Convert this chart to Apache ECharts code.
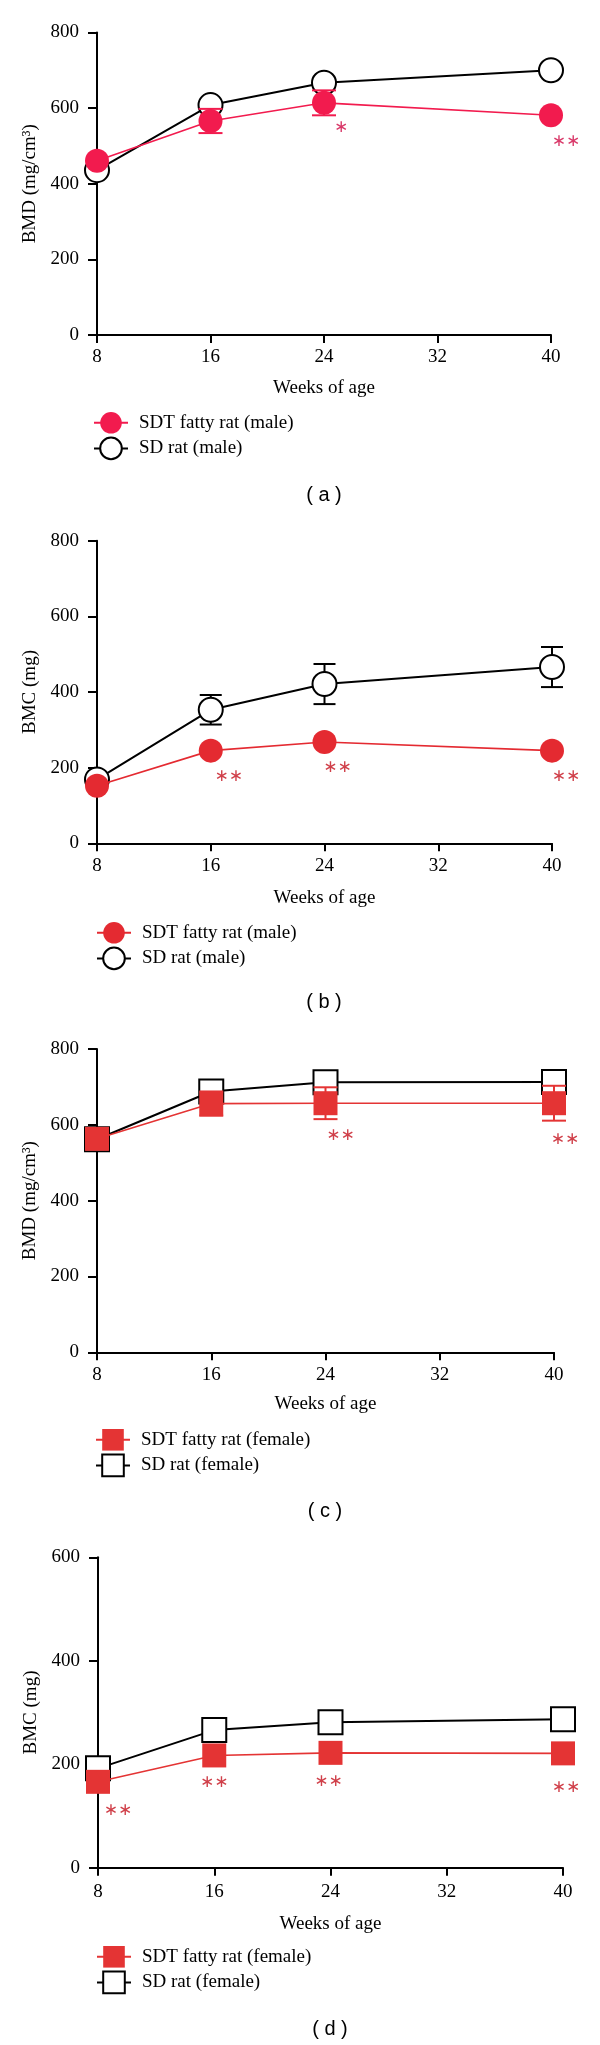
<!DOCTYPE html>
<html>
<head>
<meta charset="utf-8">
<script src="https://cdn.jsdelivr.net/npm/echarts@6/dist/echarts.min.js"></script>
<style>
  html, body { margin: 0; padding: 0; background: #fff; }
  #wrap { position: relative; width: 600px; height: 2045px; }
  .panel { position: absolute; left: 0; width: 600px; }
</style>
</head>
<body>
<div id="wrap">
  <div id="pa" class="panel" style="top:0px;height:510px"></div>
  <div id="pb" class="panel" style="top:510px;height:510px"></div>
  <div id="pc" class="panel" style="top:1020px;height:510px"></div>
  <div id="pd" class="panel" style="top:1530px;height:515px"></div>
</div>
<script>
// ---------- data ----------
const weeks = [8, 16, 24, 40];
const xTicks = [8, 16, 24, 32, 40];

// (a) BMD, male
const aSdtBMD    = [461, 566, 614, 581];
const aSdtBMDErr = [0, 32, 33, 0];
const aSdBMD     = [436, 608, 667, 700];
const aSdBMDErr  = [0, 0, 0, 0];
const aSig       = ['', '', '∗', '∗∗'];

// (b) BMC, male
const bSdtBMC    = [152, 245, 268, 245];
const bSdtBMCErr = [0, 0, 0, 0];
const bSdBMC     = [169, 353, 421, 466];
const bSdBMCErr  = [0, 39, 53, 53];
const bSig       = ['', '∗∗', '∗∗', '∗∗'];

// (c) BMD, female
const cSdtBMD    = [563, 656, 657, 657];
const cSdtBMDErr = [0, 32, 42, 46];
const cSdBMD     = [562, 688, 712, 713];
const cSdBMDErr  = [0, 0, 0, 0];
const cSig       = ['', '', '∗∗', '∗∗'];

// (d) BMC, female
const dSdtBMC    = [166, 217, 222, 221];
const dSdtBMCErr = [0, 0, 0, 0];
const dSdBMC     = [192, 266, 281, 287];
const dSdBMCErr  = [0, 0, 0, 0];
const dSig       = ['∗∗', '∗∗', '∗∗', '∗∗'];

const names = {
  sdtMale: 'SDT fatty rat (male)', sdMale: 'SD rat (male)',
  sdtFemale: 'SDT fatty rat (female)', sdFemale: 'SD rat (female)'
};

// ---------- drawing ----------
const SERIF = "'Liberation Serif', 'Times New Roman', serif";

function zip(xs, ys) { return xs.map((x, i) => [x, ys[i]]); }
function zip3(xs, ys, es) { return xs.map((x, i) => [x, ys[i], es[i]]); }

function errSeries(data, color, lw, capHalf, z) {
  return {
    type: 'custom', z: z, silent: true,
    encode: { x: 0, y: 1 },
    data: data,
    renderItem: function (params, api) {
      const x = api.value(0), y = api.value(1), e = api.value(2);
      if (!e) return null;
      const hi = api.coord([x, y + e]);
      const lo = api.coord([x, y - e]);
      const st = { stroke: color, lineWidth: lw };
      return {
        type: 'group',
        children: [
          { type: 'line', shape: { x1: hi[0], y1: hi[1], x2: lo[0], y2: lo[1] }, style: st },
          { type: 'line', shape: { x1: hi[0] - capHalf, y1: hi[1], x2: hi[0] + capHalf, y2: hi[1] }, style: st },
          { type: 'line', shape: { x1: lo[0] - capHalf, y1: lo[1], x2: lo[0] + capHalf, y2: lo[1] }, style: st }
        ]
      };
    }
  };
}

function sigSeries(xs, ys, sig, offsets, color) {
  return {
    type: 'custom', z: 6, silent: true,
    encode: { x: 0, y: 1 },
    data: xs.map((x, i) => [x, ys[i], i]),
    renderItem: function (params, api) {
      const i = api.value(2);
      const t = sig[i];
      if (!t) return null;
      const p = api.coord([api.value(0), api.value(1)]);
      const o = offsets[i];
      return {
        type: 'text',
        style: {
          text: t, x: p[0] + o[0], y: p[1] + o[1],
          fill: color, fontSize: 17, fontFamily: "'DejaVu Sans', sans-serif",
          align: 'center', verticalAlign: 'middle'
        }
      };
    }
  };
}

function makePanel(el, cfg) {
  const chart = echarts.init(document.getElementById(el), null, { renderer: 'canvas' });
  const sym = cfg.symbol;
  chart.setOption({
    animation: false,
    backgroundColor: '#fff',
    title: {
      text: cfg.label, left: cfg.labelX, top: cfg.labelTop, textAlign: 'center', padding: 0,
      textStyle: { fontFamily: "'Liberation Sans', Arial, sans-serif", fontSize: 20, fontWeight: 'normal', color: '#000' }
    },
    legend: {
      orient: 'vertical', left: cfg.legendLeft, top: cfg.legendTop, padding: 0,
      itemWidth: 34, itemHeight: 27, itemGap: 3,
      data: [cfg.sdtName, cfg.sdName],
      selectedMode: false,
      textStyle: { fontFamily: SERIF, fontSize: 19, color: '#000', padding: [0, 0, 0, 6] }
    },
    grid: { left: cfg.grid[0], right: cfg.grid[1], top: cfg.grid[2], height: cfg.grid[3] },
    xAxis: {
      type: 'value', min: 8, max: 40, interval: 8,
      name: 'Weeks of age', nameLocation: 'middle', nameGap: cfg.xNameGap,
      nameTextStyle: { fontFamily: SERIF, fontSize: 19, color: '#000' },
      axisLine: { lineStyle: { color: '#000', width: 2 } },
      axisTick: { length: 8, lineStyle: { color: '#000', width: 2 } },
      axisLabel: { margin: cfg.xLabelMargin, fontFamily: SERIF, fontSize: 19, color: '#000',
        formatter: v => (xTicks.indexOf(v) >= 0 ? String(v) : '') },
      splitLine: { show: false }
    },
    yAxis: {
      type: 'value', min: 0, max: cfg.yMax, interval: 200,
      name: cfg.yName, nameLocation: 'middle', nameGap: 54, nameRotate: 90,
      nameTextStyle: { fontFamily: SERIF, fontSize: 19, color: '#000' },
      axisLine: { show: true, lineStyle: { color: '#000', width: 2 } },
      axisTick: { show: true, length: 9, lineStyle: { color: '#000', width: 2 } },
      axisLabel: { margin: 18, fontFamily: SERIF, fontSize: 19, color: '#000' },
      splitLine: { show: false }
    },
    series: [
      errSeries(zip3(weeks, cfg.sd, cfg.sdErr), '#000', 2, 11, 1),
      {
        name: cfg.sdName, type: 'line', z: 2,
        data: zip(weeks, cfg.sd),
        symbol: sym, symbolSize: cfg.symSize,
        lineStyle: { color: '#000', width: 2 },
        itemStyle: { color: '#fff', borderColor: '#000', borderWidth: 2 },
        emphasis: { disabled: true }
      },
      errSeries(zip3(weeks, cfg.sdt, cfg.sdtErr), cfg.red, 2, 12, 3),
      {
        name: cfg.sdtName, type: 'line', z: 4,
        data: zip(weeks, cfg.sdt),
        symbol: sym, symbolSize: cfg.symSize,
        lineStyle: { color: cfg.red, width: 1.6 },
        itemStyle: { color: cfg.red, borderColor: cfg.red, borderWidth: 0 },
        emphasis: { disabled: true }
      },
      sigSeries(weeks, cfg.sdt, cfg.sig, cfg.sigOffsets, cfg.sigColor)
    ]
  });
}

makePanel('pa', {
  label: '( a )', labelX: 324, labelTop: 485,
  legendLeft: 93, legendTop: 412,
  grid: [97, 49, 32.5, 302.5], xNameGap: 44, xLabelMargin: 13,
  yMax: 800, yName: 'BMD (mg/cm³)',
  symbol: 'circle', symSize: 24,
  sdName: names.sdMale, sdtName: names.sdtMale,
  sd: aSdBMD, sdErr: aSdBMDErr, sdt: aSdtBMD, sdtErr: aSdtBMDErr,
  red: '#F21B4E', sig: aSig, sigColor: '#D93A6A',
  sigOffsets: [[0, 0], [0, 0], [17, 25], [15, 26]]
});

makePanel('pb', {
  label: '( b )', labelX: 324, labelTop: 482,
  legendLeft: 96, legendTop: 412,
  grid: [97, 48, 30.7, 302.6], xNameGap: 45, xLabelMargin: 13,
  yMax: 800, yName: 'BMC (mg)',
  symbol: 'circle', symSize: 24,
  sdName: names.sdMale, sdtName: names.sdtMale,
  sd: bSdBMC, sdErr: bSdBMCErr, sdt: bSdtBMC, sdtErr: bSdtBMCErr,
  red: '#E42A31', sig: bSig, sigColor: '#D0404A',
  sigOffsets: [[0, 0], [18, 26], [13, 26], [14, 26]]
});

makePanel('pc', {
  label: '( c )', labelX: 325, labelTop: 481,
  legendLeft: 95, legendTop: 409,
  grid: [97, 46, 29, 303.3], xNameGap: 42, xLabelMargin: 13,
  yMax: 800, yName: 'BMD (mg/cm³)',
  symbol: 'rect', symSize: 24,
  sdName: names.sdFemale, sdtName: names.sdtFemale,
  sd: cSdBMD, sdErr: cSdBMDErr, sdt: cSdtBMD, sdtErr: cSdtBMDErr,
  red: '#E43434', sig: cSig, sigColor: '#D0404A',
  sigOffsets: [[0, 0], [0, 0], [15, 32], [11, 36]]
});

makePanel('pd', {
  label: '( d )', labelX: 330, labelTop: 489,
  legendLeft: 96, legendTop: 416,
  grid: [98, 37, 27.3, 310.4], xNameGap: 47, xLabelMargin: 15,
  yMax: 600, yName: 'BMC (mg)',
  symbol: 'rect', symSize: 24,
  sdName: names.sdFemale, sdtName: names.sdtFemale,
  sd: dSdBMC, sdErr: dSdBMCErr, sdt: dSdtBMC, sdtErr: dSdtBMCErr,
  red: '#E43434', sig: dSig, sigColor: '#D0404A',
  sigOffsets: [[20, 29], [0, 27], [-2, 29], [3, 34]]
});
</script>
</body>
</html>
